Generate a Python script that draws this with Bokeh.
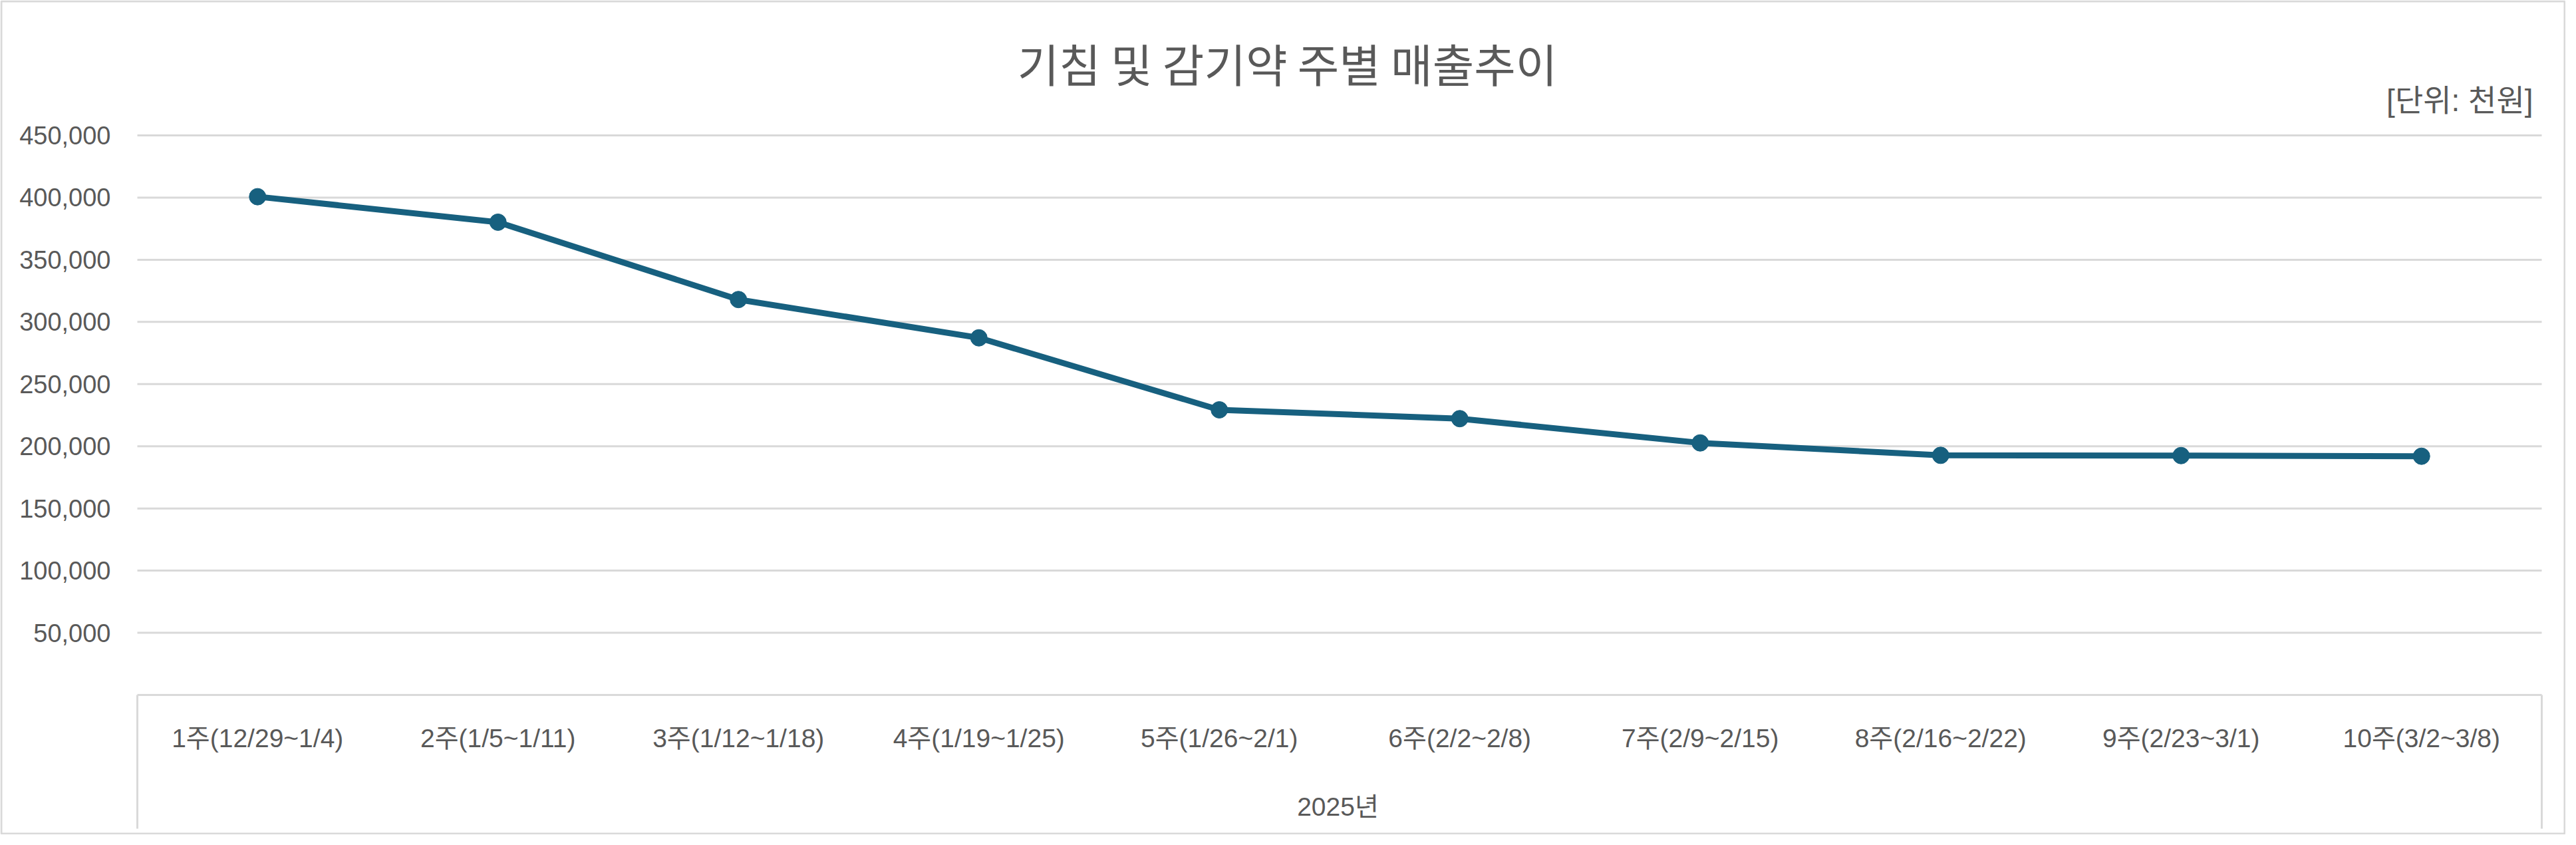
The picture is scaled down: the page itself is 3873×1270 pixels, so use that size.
from bokeh.plotting import figure
from bokeh.models import Range1d, FixedTicker, NumeralTickFormatter, Label, BoxAnnotation
from bokeh.embed import file_html
from bokeh.resources import INLINE

# ---- data ----
weeks = ["1주(12/29~1/4)", "2주(1/5~1/11)", "3주(1/12~1/18)", "4주(1/19~1/25)",
         "5주(1/26~2/1)", "6주(2/2~2/8)", "7주(2/9~2/15)", "8주(2/16~2/22)",
         "9주(2/23~3/1)", "10주(3/2~3/8)"]
sales = [400700, 380200, 318000, 287200, 229300, 222200, 202700, 192700, 192500, 192000]
y_ticks = [50000, 100000, 150000, 200000, 250000, 300000, 350000, 400000, 450000]
title_text = "기침 및 감기약 주별 매출추이"
unit_text = "[단위: 천원]"
group_text = "2025년"

# ---- layout (canvas pixels) ----
W, H = 3857, 1254
FL, FR, FT, FB = 206, 36, 203, 210      # plot-area insets inside the canvas
N = len(weeks)
YMAX = y_ticks[-1]
UX = (W - FL - FR) / N                  # px per category
UY = (H - FT - FB) / YMAX               # px per unit of value


def dx(px):
    return (px - FL) / UX


def dy(py):
    return (H - FB - py) / UY


GRAY_TXT = "#595959"
GRID = "#d9d9d9"
LINE = "#17607f"
NUM_FONT = "Liberation Sans"
MIX_FONT = "Liberation Sans, Noto Sans CJK KR"
KR_FONT = "Noto Sans CJK KR"

xs = [i + 0.5 for i in range(N)]

p = figure(width=W, height=H, x_range=Range1d(dx(0), dx(W)), y_range=Range1d(dy(H), dy(0)),
           output_backend="svg", toolbar_location=None, tools="", title=None,
           min_border=0, min_border_left=0, min_border_right=0,
           min_border_top=0, min_border_bottom=0)
p.background_fill_color = "white"
p.border_fill_color = "white"
p.outline_line_color = None
p.xgrid.visible = False
p.ygrid.visible = False

# horizontal gridlines across the plot area
p.segment(x0=0, x1=N, y0=y_ticks, y1=y_ticks, line_color=GRID, line_width=3)

# y axis
ya = p.yaxis[0]
ya.fixed_location = 0
ya.ticker = FixedTicker(ticks=y_ticks)
ya.formatter = NumeralTickFormatter(format="0,0")
ya.axis_line_color = None
ya.major_tick_line_color = None
ya.minor_tick_line_color = None
ya.major_tick_out = 0
ya.major_tick_in = 0
ya.major_label_standoff = 40
ya.major_label_text_font = NUM_FONT
ya.major_label_text_font_size = "38px"
ya.major_label_text_color = GRAY_TXT

# x axis (categories)
xa = p.xaxis[0]
xa.fixed_location = 0
xa.bounds = (0, N)
xa.ticker = FixedTicker(ticks=xs)
xa.major_label_overrides = {x: w for x, w in zip(xs, weeks)}
xa.axis_line_color = GRID
xa.axis_line_width = 3
xa.major_tick_line_color = None
xa.minor_tick_line_color = None
xa.major_tick_out = 0
xa.major_tick_in = 0
xa.major_label_standoff = 43
xa.major_label_text_font = MIX_FONT
xa.major_label_text_font_size = "39px"
xa.major_label_text_color = GRAY_TXT

# category box side lines
p.segment(x0=[0, N], x1=[0, N], y0=[0, 0], y1=[dy(1245), dy(1245)],
          line_color=GRID, line_width=3)

# series
p.line(xs, sales, line_color=LINE, line_width=9)
p.scatter(xs, sales, marker="circle", size=25, fill_color=LINE, line_color=LINE)

# outer chart border
p.add_layout(BoxAnnotation(left=dx(1.5), right=dx(W - 1.5), bottom=dy(H - 1.5), top=dy(1.5),
                           fill_alpha=0.0, line_color=GRID, line_width=3, line_alpha=1.0))

# texts
p.add_layout(Label(x=dx(1935), y=dy(94), text=title_text, text_align="center",
                   text_baseline="middle", text_font=KR_FONT, text_font_size="68px",
                   text_color=GRAY_TXT))
p.add_layout(Label(x=dx(3808), y=dy(150), text=unit_text, text_align="right",
                   text_baseline="middle", text_font=MIX_FONT, text_font_size="46px",
                   text_color=GRAY_TXT))
p.add_layout(Label(x=dx(2011), y=dy(1212), text=group_text, text_align="center",
                   text_baseline="middle", text_font=MIX_FONT, text_font_size="39px",
                   text_color=GRAY_TXT))

open("out.html", "w").write(file_html(p, INLINE))
